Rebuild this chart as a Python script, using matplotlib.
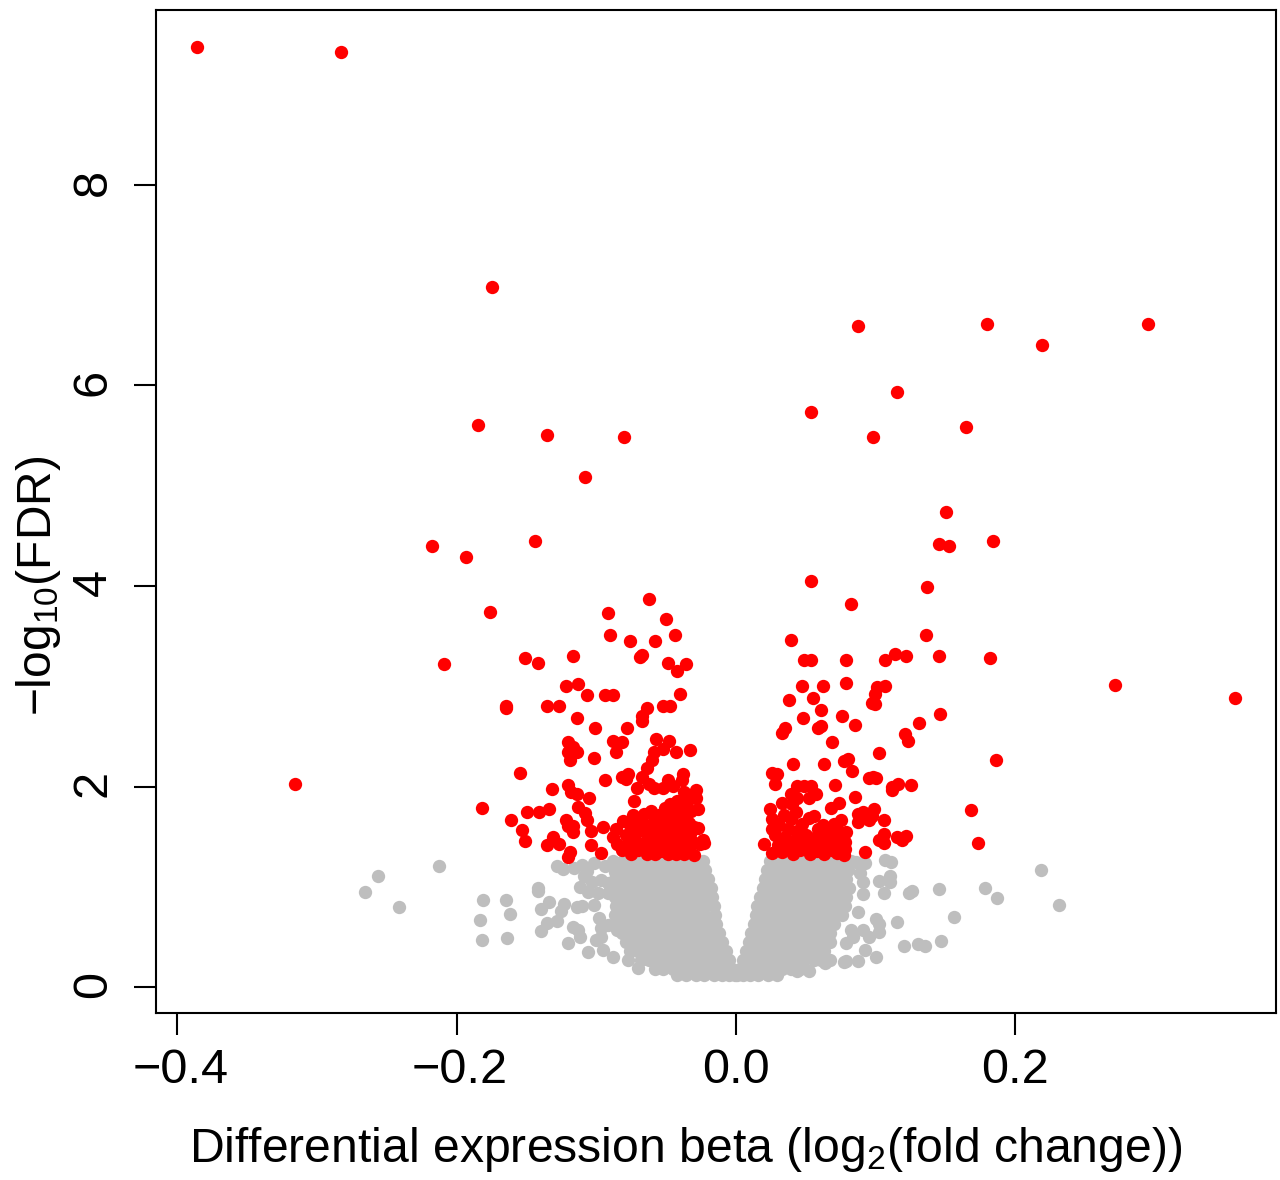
import numpy as np
import matplotlib
matplotlib.use("Agg")
import matplotlib.pyplot as plt
from matplotlib.transforms import ScaledTranslation

plt.rcParams["font.family"] = ["Liberation Sans", "DejaVu Sans"]
plt.rcParams["mathtext.fontset"] = "custom"
plt.rcParams["mathtext.rm"] = "Liberation Sans"
plt.rcParams["mathtext.default"] = "regular"

# significant genes as (beta, -log10 FDR)
red_top = [
    (-0.386, 9.38), (-0.283, 9.33), (-0.175, 6.98), (0.087, 6.59), (0.180, 6.61), (0.295, 6.61),
    (0.219, 6.40), (0.115, 5.93), (0.054, 5.74), (-0.185, 5.61), (0.165, 5.59), (-0.135, 5.51),
    (-0.080, 5.49), (0.098, 5.49), (-0.108, 5.09), (0.150, 4.74), (-0.144, 4.45), (0.184, 4.45),
    (0.145, 4.42), (0.1525, 4.40), (-0.218, 4.40), (-0.193, 4.29), (0.054, 4.05), (0.137, 3.99),
    (-0.062, 3.87), (0.082, 3.82), (-0.176, 3.74), (-0.092, 3.73), (-0.050, 3.67), (-0.090, 3.51),
    (-0.044, 3.51), (0.136, 3.51), (0.039, 3.46), (-0.076, 3.45), (-0.058, 3.45), (-0.067, 3.31),
    (-0.069, 3.29), (-0.117, 3.30), (0.114, 3.32), (0.122, 3.30), (0.145, 3.30), (0.182, 3.28),
    (-0.151, 3.28), (0.049, 3.26), (0.054, 3.26), (0.079, 3.26), (0.107, 3.26), (-0.142, 3.23),
    (-0.049, 3.23), (-0.036, 3.22), (-0.209, 3.22), (-0.042, 3.15), (0.271, 3.01), (0.079, 3.03),
    (-0.122, 3.00), (-0.113, 3.02), (0.047, 3.00), (0.062, 3.00), (0.101, 2.99), (0.107, 3.00),
    (0.0995, 2.92), (-0.094, 2.91), (-0.088, 2.91), (-0.107, 2.91), (-0.040, 2.92), (0.038, 2.86),
    (0.055, 2.88), (0.357, 2.88), (0.097, 2.83), (0.0995, 2.82), (-0.165, 2.80), (-0.165, 2.78),
    (-0.135, 2.80), (-0.127, 2.80), (-0.064, 2.78), (-0.052, 2.80), (-0.047, 2.80), (0.061, 2.76),
    (0.146, 2.72), (0.048, 2.68), (0.076, 2.70), (-0.114, 2.68), (-0.067, 2.70), (-0.067, 2.65),
    (0.131, 2.63), (0.085, 2.61), (0.061, 2.60), (0.059, 2.58), (-0.101, 2.58), (-0.078, 2.58),
    (0.035, 2.58), (0.033, 2.53), (0.121, 2.52), (0.123, 2.45), (0.069, 2.44),
]
red_left = [
    (-0.120, 2.44), (-0.117, 2.39), (-0.120, 2.34), (-0.114, 2.34), (-0.119, 2.26), (-0.102, 2.28),
    (-0.088, 2.45), (-0.082, 2.44), (-0.086, 2.34), (-0.057, 2.47), (-0.048, 2.45), (-0.033, 2.36),
    (-0.059, 2.34), (-0.052, 2.37), (-0.043, 2.34), (-0.060, 2.26), (-0.064, 2.18), (-0.155, 2.13),
    (-0.132, 1.98), (-0.120, 2.02), (-0.118, 1.95), (-0.114, 1.93), (-0.105, 1.89), (-0.094, 2.06),
    (-0.082, 2.09), (-0.077, 2.12), (-0.079, 2.07), (-0.071, 1.99), (-0.067, 2.09), (-0.062, 2.03),
    (-0.059, 1.99), (-0.052, 1.99), (-0.049, 2.06), (-0.045, 2.01), (-0.038, 2.12), (-0.039, 2.06),
    (-0.037, 1.95), (-0.029, 1.97), (-0.029, 1.89), (-0.033, 1.90), (-0.073, 1.86), (-0.027, 1.78),
    (-0.182, 1.79), (-0.150, 1.75), (-0.141, 1.75), (-0.134, 1.78), (-0.161, 1.67), (-0.153, 1.57),
    (-0.151, 1.46), (-0.122, 1.67), (-0.120, 1.61), (-0.117, 1.61), (-0.117, 1.55), (-0.113, 1.80),
    (-0.108, 1.74), (-0.107, 1.67), (-0.104, 1.56), (-0.095, 1.60), (-0.131, 1.50), (-0.135, 1.42),
    (-0.127, 1.43), (-0.104, 1.42), (-0.119, 1.35), (-0.120, 1.30), (-0.097, 1.34), (-0.316, 2.03),
    (-0.088, 1.50), (-0.085, 1.43), (-0.086, 1.58), (-0.082, 1.37), (-0.079, 1.52), (-0.081, 1.66),
    (-0.078, 1.42), (-0.076, 1.62), (-0.075, 1.33), (-0.074, 1.72), (-0.072, 1.47), (-0.071, 1.56),
    (-0.070, 1.37), (-0.068, 1.67), (-0.067, 1.43), (-0.066, 1.73), (-0.064, 1.33), (-0.064, 1.52),
    (-0.063, 1.60), (-0.062, 1.38), (-0.061, 1.76), (-0.060, 1.47), (-0.059, 1.66), (-0.058, 1.33),
    (-0.057, 1.56), (-0.056, 1.42), (-0.055, 1.72), (-0.054, 1.36), (-0.053, 1.50), (-0.052, 1.62),
    (-0.051, 1.79), (-0.050, 1.44), (-0.049, 1.33), (-0.049, 1.55), (-0.048, 1.68), (-0.047, 1.83),
    (-0.046, 1.39), (-0.046, 1.48), (-0.045, 1.60), (-0.044, 1.74), (-0.043, 1.33), (-0.043, 1.54),
    (-0.042, 1.43), (-0.042, 1.86), (-0.041, 1.66), (-0.040, 1.37), (-0.040, 1.78), (-0.039, 1.50),
    (-0.038, 1.58), (-0.037, 1.72), (-0.037, 1.33), (-0.036, 1.44), (-0.035, 1.85), (-0.034, 1.64),
    (-0.034, 1.38), (-0.033, 1.53), (-0.032, 1.76), (-0.031, 1.45), (-0.030, 1.60), (-0.030, 1.32),
    (-0.026, 1.43), (-0.023, 1.44), (-0.024, 1.47), (-0.027, 1.59),
]
red_right = [
    (0.102, 2.33), (0.041, 2.22), (0.063, 2.22), (0.077, 2.25), (0.080, 2.27), (0.083, 2.15),
    (0.026, 2.13), (0.029, 2.12), (0.028, 2.03), (0.071, 2.02), (0.095, 2.08), (0.098, 2.09),
    (0.100, 2.08), (0.112, 1.97), (0.116, 2.03), (0.112, 2.00), (0.125, 2.02), (0.085, 1.90),
    (0.044, 2.01), (0.049, 2.01), (0.054, 2.01), (0.057, 1.93), (0.052, 1.89), (0.044, 1.89),
    (0.039, 1.93), (0.040, 1.83), (0.033, 1.84), (0.074, 1.84), (0.068, 1.79), (0.056, 1.71),
    (0.024, 1.78), (0.026, 1.68), (0.026, 1.58), (0.087, 1.73), (0.091, 1.75), (0.099, 1.78),
    (0.095, 1.67), (0.087, 1.65), (0.097, 1.71), (0.106, 1.67), (0.106, 1.53), (0.102, 1.47),
    (0.106, 1.44), (0.115, 1.50), (0.119, 1.47), (0.122, 1.51), (0.092, 1.35), (0.020, 1.43),
    (0.026, 1.34), (0.077, 1.32), (0.168, 1.77), (0.173, 1.44), (0.186, 2.26),
    (0.028, 1.52), (0.030, 1.42), (0.031, 1.62), (0.033, 1.35), (0.034, 1.72), (0.035, 1.50),
    (0.037, 1.58), (0.038, 1.40), (0.039, 1.68), (0.041, 1.33), (0.042, 1.47), (0.043, 1.75),
    (0.044, 1.56), (0.046, 1.37), (0.047, 1.63), (0.049, 1.43), (0.050, 1.52), (0.052, 1.69),
    (0.053, 1.33), (0.054, 1.41), (0.057, 1.50), (0.058, 1.36), (0.059, 1.58), (0.061, 1.44),
    (0.062, 1.62), (0.063, 1.33), (0.065, 1.50), (0.066, 1.40), (0.067, 1.56), (0.069, 1.37),
    (0.070, 1.63), (0.071, 1.47), (0.072, 1.34), (0.073, 1.42), (0.074, 1.55), (0.075, 1.67),
    (0.076, 1.49), (0.078, 1.38), (0.079, 1.55), (0.078, 1.45),
]

# the grey fringe that can be told apart one dot at a time
gray_fringe = [
    (-0.266, 0.95), (-0.256, 1.11), (-0.241, 0.80), (-0.213, 1.21), (-0.181, 0.87), (-0.183, 0.67),
    (-0.182, 0.47), (-0.165, 0.87), (-0.162, 0.73), (-0.164, 0.49), (-0.142, 0.99), (-0.142, 0.96),
    (-0.134, 0.85), (-0.140, 0.78), (-0.123, 0.83), (-0.125, 0.76), (-0.135, 0.64), (-0.140, 0.56),
    (-0.128, 0.66), (-0.117, 0.60), (-0.113, 0.57), (-0.112, 0.50), (-0.120, 0.44), (-0.106, 0.35),
    (-0.128, 1.21), (-0.124, 1.18), (-0.116, 1.19), (-0.110, 1.22), (-0.107, 1.16), (-0.109, 1.11),
    (-0.102, 1.24), (-0.094, 1.21), (-0.087, 1.15), (-0.097, 1.07), (-0.103, 1.05), (-0.112, 1.00),
    (-0.106, 0.95), (-0.092, 1.04), (-0.099, 0.94), (-0.092, 0.94), (-0.102, 0.82), (-0.110, 0.81),
    (-0.114, 0.80), (-0.098, 0.69), (-0.097, 0.59), (-0.092, 0.62), (-0.097, 0.50), (-0.100, 0.47),
    (-0.095, 0.37), (-0.088, 0.30), (-0.077, 0.27), (-0.070, 0.19), (-0.085, 0.57), (-0.082, 0.54),
    (0.107, 1.27), (0.111, 1.25), (0.092, 1.24), (0.086, 1.25), (0.102, 1.06), (0.110, 1.11),
    (0.110, 1.05), (0.106, 0.94), (0.091, 0.93), (0.091, 1.05), (0.089, 1.14), (0.124, 0.94),
    (0.126, 0.96), (0.145, 0.98), (0.156, 0.70), (0.115, 0.65), (0.100, 0.68), (0.102, 0.63),
    (0.102, 0.55), (0.087, 0.75), (0.095, 0.50), (0.091, 0.57), (0.079, 0.44), (0.084, 0.50),
    (0.082, 0.57), (0.067, 0.45), (0.120, 0.41), (0.130, 0.43), (0.135, 0.41), (0.147, 0.46),
    (0.092, 0.37), (0.100, 0.30), (0.087, 0.26), (0.079, 0.26), (0.077, 0.25), (0.067, 0.27),
    (0.064, 0.24), (0.052, 0.16), (0.044, 0.16), (0.218, 1.17), (0.231, 0.82), (0.187, 0.89),
    (0.178, 0.99),
]

# the solid grey mass, row by row: (-log10 FDR, betas in that row)
gray_rows = [
    (1.26, [-0.088, -0.081, -0.075, -0.068, -0.062, -0.055, -0.049, -0.043, -0.036, -0.030, -0.024,
            0.024, 0.030, 0.037, 0.043, 0.050, 0.056, 0.063, 0.069, 0.076, 0.082]),
    (1.17, [-0.086, -0.079, -0.072, -0.066, -0.060, -0.053, -0.047, -0.040, -0.034, -0.027, -0.022,
            0.022, 0.028, 0.034, 0.041, 0.047, 0.054, 0.060, 0.067, 0.073, 0.080]),
    (1.08, [-0.087, -0.081, -0.074, -0.068, -0.061, -0.055, -0.048, -0.042, -0.035, -0.029, -0.023, -0.020,
            0.021, 0.026, 0.033, 0.039, 0.046, 0.052, 0.059, 0.065, 0.072, 0.079]),
    (0.99, [-0.086, -0.080, -0.073, -0.067, -0.060, -0.054, -0.047, -0.041, -0.034, -0.028, -0.022, -0.018,
            0.019, 0.024, 0.031, 0.037, 0.044, 0.050, 0.057, 0.063, 0.070, 0.076, 0.081]),
    (0.90, [-0.087, -0.081, -0.074, -0.068, -0.061, -0.055, -0.048, -0.042, -0.035, -0.029, -0.023, -0.017,
            0.017, 0.022, 0.029, 0.035, 0.042, 0.048, 0.055, 0.061, 0.068, 0.074, 0.079]),
    (0.81, [-0.086, -0.080, -0.073, -0.067, -0.060, -0.054, -0.047, -0.041, -0.034, -0.028, -0.022, -0.016,
            0.015, 0.020, 0.027, 0.033, 0.040, 0.046, 0.053, 0.059, 0.066, 0.072, 0.078]),
    (0.72, [-0.087, -0.081, -0.074, -0.068, -0.061, -0.055, -0.048, -0.042, -0.035, -0.029, -0.023, -0.015,
            0.014, 0.019, 0.026, 0.032, 0.039, 0.045, 0.052, 0.058, 0.065, 0.071, 0.076]),
    (0.63, [-0.086, -0.080, -0.073, -0.067, -0.060, -0.054, -0.047, -0.041, -0.034, -0.028, -0.021, -0.014,
            0.013, 0.018, 0.025, 0.031, 0.038, 0.044, 0.051, 0.057, 0.064, 0.070]),
    (0.54, [-0.078, -0.072, -0.065, -0.059, -0.052, -0.046, -0.039, -0.033, -0.026, -0.020, -0.012,
            0.011, 0.016, 0.023, 0.029, 0.036, 0.042, 0.049, 0.055, 0.062, 0.067]),
    (0.45, [-0.079, -0.073, -0.066, -0.060, -0.053, -0.047, -0.040, -0.034, -0.027, -0.021, -0.015, -0.010,
            0.009, 0.014, 0.021, 0.027, 0.034, 0.040, 0.047, 0.053, 0.060]),
    (0.36, [-0.076, -0.070, -0.063, -0.057, -0.050, -0.044, -0.037, -0.031, -0.024, -0.018, -0.012, -0.007,
            0.007, 0.012, 0.019, 0.025, 0.032, 0.038, 0.045, 0.051, 0.058, 0.063]),
    (0.27, [-0.068, -0.062, -0.055, -0.049, -0.042, -0.036, -0.029, -0.023, -0.016, -0.010, -0.005,
            0.005, 0.010, 0.017, 0.023, 0.030, 0.036, 0.043, 0.049, 0.056, 0.061]),
    (0.18, [-0.058, -0.052, -0.045, -0.039, -0.032, -0.026, -0.019, -0.013, -0.007, -0.003,
            0.003, 0.007, 0.013, 0.020, 0.026, 0.033, 0.039, 0.046]),
    (0.12, [-0.042, -0.036, -0.029, -0.023, -0.016, -0.010, -0.005, -0.001,
            0.001, 0.005, 0.010, 0.016, 0.023, 0.029]),
]

x_ticks = [-0.4, -0.2, 0.0, 0.2]
x_tick_labels = ["\u22120.4", "\u22120.2", "0.0", "0.2"]
y_ticks = [0, 2, 4, 6, 8]

red = np.array(red_top + red_left + red_right)
gray = np.array(gray_fringe + [(x, row[0]) for row in gray_rows for x in row[1]])

fig = plt.figure(figsize=(12.8, 11.8), dpi=100)
ax = fig.add_axes([156 / 1280, 1 - 1013 / 1180, 1120 / 1280, 1003 / 1180])

ax.scatter(gray[:, 0], gray[:, 1], s=92, c="#BEBEBE", linewidths=0)
ax.scatter(red[:, 0], red[:, 1], s=92, c="#FF0000", linewidths=0)

ax.set_xlim(-0.4153, 0.3866)
ax.set_ylim(-0.259, 9.745)
ax.set_xticks(x_ticks)
ax.set_xticklabels(x_tick_labels)
ax.set_yticks(y_ticks)
ax.tick_params(axis="both", length=16, width=1.5, labelsize=35)
ax.tick_params(axis="x", pad=9.5)
ax.tick_params(axis="y", labelrotation=90, pad=13)
for lab in ax.get_yticklabels():
    lab.set_va("center")
    lab.set_transform(lab.get_transform() + ScaledTranslation(0, 3 / 100, fig.dpi_scale_trans))
for lab in ax.get_xticklabels()[:2]:
    lab.set_transform(lab.get_transform() + ScaledTranslation(3 / 100, 0, fig.dpi_scale_trans))
for sp in ax.spines.values():
    sp.set_linewidth(1.5)

ax.set_xlabel("Differential expression beta (log$_{2}$(fold change))", fontsize=34.7)
ax.xaxis.set_label_coords(0.473, -0.1117)
ax.set_ylabel("\u2212log$_{10}$(FDR)", fontsize=34.5)
ax.yaxis.set_label_coords(-0.083, 0.4257)

fig.savefig("out.png", dpi=100)
